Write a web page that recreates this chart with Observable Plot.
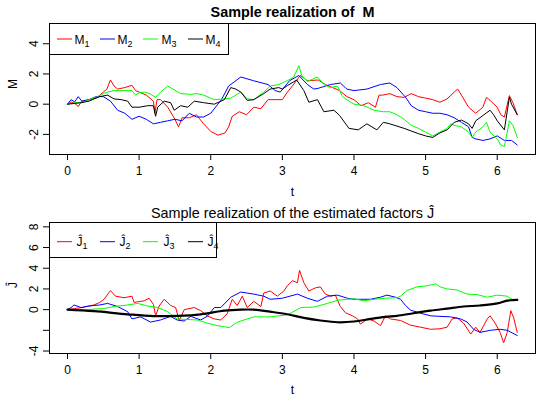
<!DOCTYPE html>
<html><head><meta charset="utf-8">
<script src="https://cdn.jsdelivr.net/npm/d3@7"></script>
<script src="https://cdn.jsdelivr.net/npm/@observablehq/plot@0.6"></script>
<style>body{margin:0;background:#fff} #chart svg{display:block}</style>
</head><body><div id="chart"></div>
<script>
// ---- data (t, value) ----
const xTicks = [0,1,2,3,4,5,6];
const topYTicks = [-2,0,2,4];
const botYTicks = [-4,-2,0,2,4,6,8];
const botYLabels = ["-4","","0","2","4","6","8"];
const seriesColors = ["#FF0000","#0000FF","#00FF00","#000000"];
const legendSubs = ["1","2","3","4"];

const m1 = [[0,0],[0.05,0.15],[0.1,0.05],[0.15,-0.15],[0.2,0.2],[0.3,0.3],[0.4,0.4],[0.5,0.8],[0.55,1.0],[0.6,1.6],[0.65,1.2],[0.7,1.0],[0.8,1.1],[0.9,1.25],[0.95,0.9],[1.0,0.8],[1.1,0.6],[1.2,0.2],[1.22,-0.6],[1.25,0.3],[1.3,0.3],[1.4,-0.2],[1.5,-1.0],[1.55,-1.5],[1.6,-0.9],[1.7,-0.9],[1.8,-0.7],[1.9,-1.3],[2.0,-1.8],[2.1,-2.05],[2.2,-1.9],[2.25,-1.5],[2.3,-0.8],[2.4,-0.5],[2.5,-0.7],[2.6,-0.2],[2.7,-0.3],[2.8,0.3],[2.9,0.3],[3.0,0.3],[3.07,0.8],[3.14,1.2],[3.25,1.9],[3.35,1.55],[3.5,1.6],[3.6,1.3],[3.7,1.1],[3.8,0.9],[3.9,0.5],[4.0,0.3],[4.1,-0.1],[4.2,0.1],[4.3,-0.2],[4.35,0.6],[4.4,0.6],[4.5,0.7],[4.6,0.5],[4.7,0.45],[4.8,0.7],[4.9,0.5],[5.0,0.4],[5.1,0.3],[5.2,0.13],[5.3,0.35],[5.4,0.8],[5.45,1.0],[5.5,0.6],[5.6,-0.2],[5.7,-0.6],[5.8,-0.2],[5.85,0.45],[5.9,0.25],[6.0,-0.2],[6.05,-0.7],[6.1,-0.85],[6.17,0.57],[6.22,0.1],[6.28,-0.7]];
const m2 = [[0,0],[0.05,0.3],[0.1,0.15],[0.15,0.5],[0.2,0.2],[0.3,0.3],[0.4,0.5],[0.5,0.5],[0.6,0.2],[0.7,-0.4],[0.8,-0.6],[0.9,-1.0],[1.0,-0.8],[1.1,-1.0],[1.2,-1.3],[1.3,-1.2],[1.4,-1.1],[1.5,-1.0],[1.6,-1.1],[1.7,-0.6],[1.8,-0.85],[1.9,-0.85],[2.0,-0.6],[2.1,0.0],[2.15,0.3],[2.25,1.2],[2.42,1.8],[2.6,1.55],[2.8,1.3],[2.9,0.9],[2.97,0.8],[3.1,1.55],[3.23,1.9],[3.35,1.3],[3.44,1.0],[3.5,1.05],[3.67,1.3],[3.81,1.4],[3.9,1.0],[4.0,0.9],[4.18,1.0],[4.37,1.3],[4.5,1.4],[4.6,1.1],[4.72,0.46],[4.8,-0.1],[4.9,-0.4],[5.0,-0.5],[5.1,-0.6],[5.2,-0.6],[5.3,-0.7],[5.4,-0.9],[5.5,-1.2],[5.6,-1.5],[5.65,-2.2],[5.7,-2.3],[5.8,-2.4],[5.9,-2.3],[6.0,-2.1],[6.1,-2.4],[6.2,-2.4],[6.28,-2.7]];
const m3 = [[0,0],[0.1,0.1],[0.2,0.1],[0.3,0.3],[0.4,0.45],[0.5,0.7],[0.56,0.8],[0.65,0.9],[0.8,0.9],[0.9,0.9],[0.95,0.6],[1.0,0.75],[1.07,0.8],[1.15,0.7],[1.23,0.45],[1.3,0.8],[1.4,1.2],[1.49,0.95],[1.58,0.7],[1.72,0.65],[1.81,0.7],[1.9,0.6],[2.05,0.3],[2.19,0.35],[2.28,0.4],[2.42,0.8],[2.51,0.35],[2.6,0.3],[2.74,0.8],[2.83,1.2],[2.95,1.3],[3.07,1.56],[3.16,1.8],[3.23,2.55],[3.27,1.9],[3.35,1.5],[3.49,1.8],[3.58,1.3],[3.67,1.1],[3.77,1.2],[3.84,0.5],[3.9,0.3],[4.0,0.0],[4.14,-0.1],[4.28,-0.4],[4.41,-0.5],[4.5,-0.5],[4.6,-0.7],[4.7,-1.0],[4.8,-1.4],[4.9,-1.6],[5.0,-1.85],[5.1,-2.1],[5.2,-1.85],[5.3,-1.6],[5.35,-1.3],[5.4,-1.4],[5.5,-1.5],[5.6,-1.85],[5.65,-2.2],[5.7,-1.85],[5.8,-1.5],[5.85,-1.2],[5.9,-1.85],[6.0,-2.3],[6.05,-2.7],[6.1,-2.8],[6.17,-1.1],[6.22,-1.4],[6.28,-2.2]];
const m4 = [[0,0],[0.1,0.05],[0.19,0.1],[0.3,0.2],[0.37,0.35],[0.45,0.5],[0.56,0.6],[0.65,0.35],[0.75,0.3],[0.84,0.2],[0.9,-0.2],[1.0,-0.2],[1.12,-0.1],[1.2,-0.1],[1.23,-0.8],[1.26,-0.2],[1.35,0.2],[1.44,0.1],[1.49,-0.4],[1.58,-0.1],[1.68,-0.2],[1.77,0.2],[1.9,0.1],[2.05,0.0],[2.19,0.3],[2.28,1.1],[2.35,1.0],[2.42,0.8],[2.51,0.25],[2.6,0.3],[2.74,0.7],[2.83,1.0],[2.95,1.1],[3.0,1.0],[3.07,1.23],[3.2,1.6],[3.3,0.9],[3.37,0.13],[3.49,0.3],[3.58,-0.5],[3.72,-0.4],[3.8,-0.75],[3.93,-1.6],[4.06,-1.7],[4.18,-1.3],[4.32,-1.7],[4.41,-1.2],[4.5,-1.3],[4.7,-1.6],[4.9,-1.95],[5.0,-2.1],[5.1,-2.2],[5.2,-1.9],[5.3,-1.7],[5.4,-1.2],[5.5,-1.05],[5.6,-1.3],[5.65,-1.6],[5.7,-1.1],[5.8,-0.75],[5.9,-0.4],[5.95,-0.7],[6.0,-1.1],[6.1,-1.7],[6.17,0.46],[6.2,0.0],[6.28,-0.7]];

const j1 = [[0,0],[0.1,0.1],[0.2,0.2],[0.3,0.35],[0.37,0.45],[0.45,0.7],[0.51,1.0],[0.6,1.84],[0.67,1.3],[0.79,1.15],[0.9,1.3],[0.93,0.7],[1.07,0.85],[1.14,1.1],[1.2,0.5],[1.23,-0.6],[1.28,0.35],[1.35,1.0],[1.44,0.4],[1.51,0.2],[1.56,-1.07],[1.63,0.0],[1.77,0.2],[1.86,-0.1],[1.95,-0.6],[2.05,-0.9],[2.14,-1.0],[2.23,-0.4],[2.3,1.0],[2.37,0.4],[2.44,1.3],[2.51,0.2],[2.6,0.8],[2.7,0.3],[2.74,1.6],[2.83,1.8],[2.93,1.3],[3.02,1.8],[3.07,2.3],[3.14,2.8],[3.21,2.6],[3.24,3.8],[3.3,2.6],[3.37,1.8],[3.46,2.1],[3.53,2.2],[3.6,1.5],[3.67,1.3],[3.74,1.4],[3.81,0.3],[3.88,-0.3],[3.98,-0.6],[4.05,-0.9],[4.09,-1.4],[4.19,-0.9],[4.28,-1.1],[4.37,-1.55],[4.44,-0.6],[4.51,-0.9],[4.65,-1.05],[4.79,-1.5],[4.93,-1.7],[5.07,-1.9],[5.2,-1.85],[5.3,-1.7],[5.37,-0.9],[5.44,-0.8],[5.53,-1.3],[5.63,-2.36],[5.7,-1.7],[5.76,-2.2],[5.86,-0.9],[5.9,-0.6],[5.97,-1.3],[6.04,-2.2],[6.09,-3.2],[6.14,-2.2],[6.19,-0.1],[6.23,-0.8],[6.28,-2.2]];
const j2 = [[0,0],[0.05,0.2],[0.09,0.45],[0.19,0.2],[0.3,0.35],[0.37,0.4],[0.45,0.45],[0.56,0.6],[0.7,0.3],[0.84,-0.2],[0.9,-0.9],[1.02,-0.7],[1.16,-1.2],[1.3,-1.0],[1.44,-0.65],[1.53,-1.0],[1.63,-1.1],[1.72,-0.65],[1.86,-1.0],[1.95,-0.65],[2.05,0.2],[2.14,0.2],[2.28,1.2],[2.42,1.7],[2.6,1.5],[2.74,1.3],[2.83,1.0],[3.0,1.1],[3.21,1.5],[3.35,1.1],[3.49,0.8],[3.63,1.3],[3.77,1.4],[3.91,1.1],[4.0,1.0],[4.23,1.0],[4.37,1.2],[4.46,1.4],[4.58,1.2],[4.65,1.0],[4.72,0.4],[4.79,-0.05],[4.93,-0.35],[5.07,-0.6],[5.2,-0.65],[5.35,-0.7],[5.49,-0.9],[5.58,-1.2],[5.67,-1.9],[5.76,-2.2],[5.9,-2.0],[6.04,-1.9],[6.14,-2.0],[6.28,-2.5]];
const j3 = [[0,0],[0.1,0.0],[0.19,-0.1],[0.3,0.0],[0.37,0.05],[0.5,0.1],[0.65,0.3],[0.84,0.45],[0.98,0.6],[1.12,0.35],[1.26,0.2],[1.4,-0.2],[1.53,-0.9],[1.67,-0.95],[1.81,-1.0],[1.95,-1.3],[2.09,-1.55],[2.19,-1.65],[2.26,-1.75],[2.35,-1.3],[2.42,-1.1],[2.6,-0.7],[2.83,-0.7],[3.07,-0.5],[3.26,0.2],[3.44,0.25],[3.63,0.6],[3.77,0.9],[3.91,1.0],[4.0,1.05],[4.14,0.85],[4.28,1.0],[4.44,1.1],[4.6,1.15],[4.65,1.3],[4.74,1.85],[4.88,2.2],[5.02,2.3],[5.14,2.5],[5.2,2.2],[5.3,2.0],[5.44,1.9],[5.58,1.5],[5.72,1.45],[5.86,1.2],[6.0,1.4],[6.14,1.3],[6.23,0.87],[6.28,1.0]];
const j4 = [[0,0],[0.37,-0.15],[0.84,-0.45],[1.2,-0.62],[1.53,-0.6],[1.86,-0.45],[2.19,-0.1],[2.42,0.0],[2.6,0.0],[2.83,-0.2],[3.07,-0.45],[3.3,-0.8],[3.53,-1.05],[3.77,-1.22],[4.0,-1.15],[4.23,-0.9],[4.44,-0.7],[4.6,-0.6],[4.83,-0.35],[5.07,-0.1],[5.3,0.1],[5.53,0.3],[5.76,0.4],[6.0,0.6],[6.14,0.87],[6.28,0.94]];

const FONT = "'Liberation Sans', Arial, Helvetica, sans-serif";
const W = 547;

function panel(o) {
  const marks = [
    ...o.series.map((s, i) => Plot.line(s, {
      x: d => d[0], y: d => d[1], stroke: seriesColors[i],
      strokeWidth: o.widths[i], curve: o.curves[i]
    })),
    Plot.frame({stroke: "#000", strokeWidth: 1}),
    Plot.axisX({ticks: xTicks, tickSize: 6, tickPadding: 6, fontSize: 12, label: null, tickFormat: d => String(d)}),
    Plot.axisY({ticks: o.yTicks, tickSize: 6, tickPadding: 6, tickRotate: -90, fontSize: 12, label: null, tickFormat: o.yFmt}),
    Plot.text([o.title], {frameAnchor: "top", dy: o.titleDy, fontSize: 14.4, fontWeight: o.bold ? "bold" : "normal", text: d => d}),
    Plot.text(["t"], {frameAnchor: "bottom", dy: o.tDy, fontSize: 12, text: d => d}),
    Plot.text([o.ylab], {frameAnchor: "left", dx: -36, rotate: -90, fontSize: 12, text: d => d})
  ];
  const svg = Plot.plot({
    width: W, height: o.height,
    marginLeft: 49, marginRight: 12, marginTop: o.mt, marginBottom: o.mb,
    x: {domain: [-0.2513, 6.5345]},
    y: {domain: o.yDomain},
    style: {fontFamily: FONT, fontSize: "12px", color: "#000", background: "#fff", overflow: "visible"},
    marks
  });
  // legend (top-left, inside the plot box)
  const g = d3.select(svg).append("g").attr("font-family", FONT).attr("font-size", 12);
  g.append("rect").attr("x", 49.5).attr("y", o.mt + 0.5).attr("width", o.legW).attr("height", o.legH)
    .attr("fill", "#fff").attr("stroke", "#000");
  const lineX = [57, 100, 143, 188], textX = [82, 125, 169, 213];
  const ly = o.mt + o.legLineDy;
  seriesColors.forEach((c, i) => {
    g.append("line").attr("x1", lineX[i]).attr("x2", lineX[i] + 15).attr("y1", ly).attr("y2", ly)
      .attr("stroke", c).attr("stroke-width", 1);
    const t = g.append("text").attr("x", textX[i]).attr("y", ly + 4.5).attr("fill", "#000");
    t.append("tspan").text(o.legBase);
    t.append("tspan").attr("font-size", 9).attr("dy", 3).text(legendSubs[i]);
  });
  return svg;
}

const topPanel = panel({
  series: [m1, m2, m3, m4], widths: [1, 1, 1, 1], curves: ["linear","linear","linear","linear"],
  yDomain: [-3.33, 5.34], yTicks: topYTicks, yFmt: d => String(d),
  height: 198, mt: 23, mb: 44, titleDy: -16.5, tDy: 41, bold: true,
  title: "Sample realization of\u00a0 M", ylab: "M",
  legW: 179, legH: 31, legLineDy: 16, legBase: "M"
});
const botPanel = panel({
  series: [j1, j2, j3, j4], widths: [1, 1, 1, 2.2], curves: ["linear","linear","linear","catmull-rom"],
  yDomain: [-4.24, 8.42], yTicks: botYTicks, yFmt: d => botYLabels[botYTicks.indexOf(d)],
  height: 200, mt: 24, mb: 45, titleDy: -14.5, tDy: 40, bold: false,
  title: "Sample realization of the estimated factors \u0134", ylab: "\u0134",
  legW: 167, legH: 35, legLineDy: 19.7, legBase: "\u0134"
});
document.getElementById("chart").append(topPanel, botPanel);
</script></body></html>
